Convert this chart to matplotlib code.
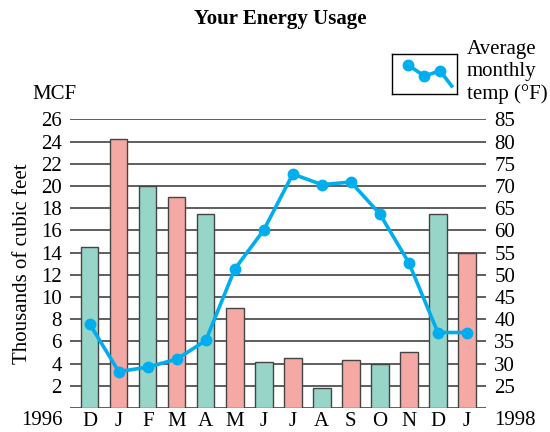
import matplotlib.pyplot as plt
import numpy as np

plt.rcParams['font.family'] = ['Liberation Serif', 'DejaVu Serif']

# data
months = ['D', 'J', 'F', 'M', 'A', 'M', 'J', 'J', 'A', 'S', 'O', 'N', 'D', 'J']
usage = [14.5, 24.2, 20.0, 19.0, 17.5, 9.0, 4.1, 4.5, 1.8, 4.3, 4.0, 5.0, 17.5, 14.0]
temps = [38.9, 28.2, 29.2, 31.0, 35.2, 51.3, 60.1, 72.7, 70.3, 70.9, 63.7, 52.7, 37.0, 37.0]
left_ticks = list(range(2, 27, 2))
right_ticks = list(range(25, 86, 5))

teal = '#97d5c9'
pink = '#f5a9a5'
blue = '#00aeef'
colors = [teal if i % 2 == 0 else pink for i in range(len(months))]

fig = plt.figure(figsize=(5.5, 4.32), dpi=100)
ax = fig.add_axes([0.1273, 0.0556, 0.7564, 0.668])
x = np.arange(len(months))

# grid lines sit behind the bars
for g in range(0, 27, 2):
    ax.axhline(g, color='#333333', lw=1.1, zorder=1)
ax.bar(x, usage, width=0.6, color=colors, edgecolor='#444444', lw=1.0, zorder=2)

ax.set_xlim(-0.68, 13.66)
ax.set_ylim(0, 26)
ax.set_yticks(left_ticks)
ax.set_xticks(x)
ax.set_xticklabels(months)
ax.tick_params(length=0, labelsize=15, pad=6)
ax.tick_params(axis='x', pad=3)
for s in ax.spines.values():
    s.set_visible(False)

ax2 = ax.twinx()
ax2.set_ylim(20, 85)
ax2.set_yticks(right_ticks)
ax2.tick_params(length=0, labelsize=15, pad=6)
for s in ax2.spines.values():
    s.set_visible(False)
ax2.plot(x, temps, color=blue, lw=2.6, marker='o', ms=7.5, zorder=5, clip_on=False)

ax.set_ylabel('Thousands of cubic feet', fontsize=15, labelpad=6)
fig.text(0.099, 0.782, 'MCF', fontsize=15, ha='center', va='center')
fig.text(0.0764, 0.026, '1996', fontsize=15, ha='center', va='center')
fig.text(0.936, 0.026, '1998', fontsize=15, ha='center', va='center')
fig.text(0.51, 0.955, 'Your Energy Usage', fontsize=15, fontweight='bold',
         ha='center', va='center')

# legend box drawn by hand
lax = fig.add_axes([0.7127, 0.7824, 0.118, 0.0926])
lax.set_xlim(0, 1)
lax.set_ylim(0, 1)
lax.set_xticks([])
lax.set_yticks([])
for s in lax.spines.values():
    s.set_linewidth(1.0)
lax.plot([0.25, 0.5, 0.74, 0.92], [0.72, 0.45, 0.58, 0.2], color=blue, lw=2.6)
lax.plot([0.25, 0.5, 0.74], [0.72, 0.45, 0.58], 'o', color=blue, ms=7.5)
fig.text(0.849, 0.833, 'Average\nmonthly\ntemp (\u00b0F)', fontsize=15,
         ha='left', va='center', linespacing=1.2)

fig.savefig('out.png', dpi=100)
